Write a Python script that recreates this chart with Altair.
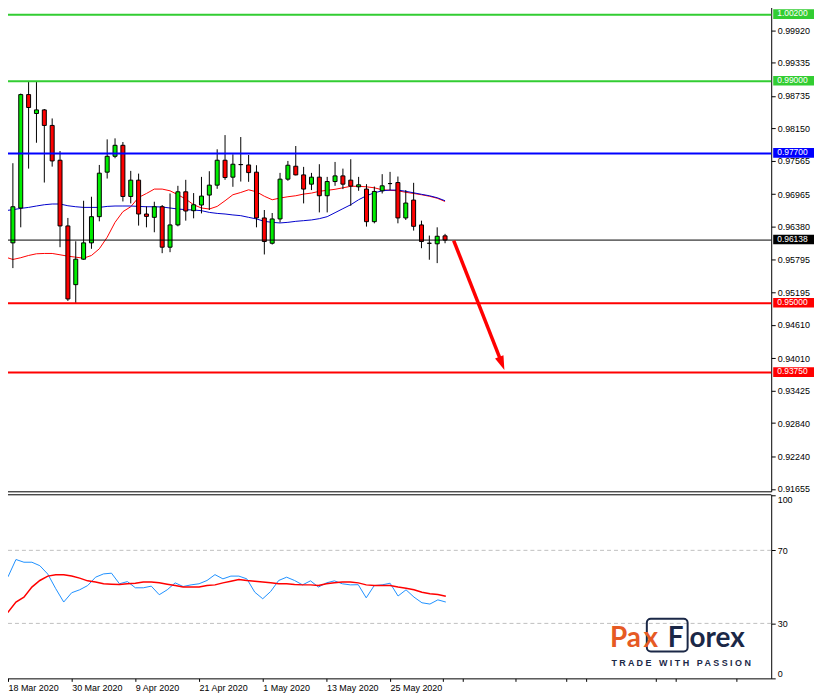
import altair as alt
import pandas as pd

# ---------------- data ----------------
# bar index: 0 = 18 Mar 2020 (daily bars, -1 = 17 Mar 2020)
bars = list(range(-1, 56))

opens = [0.94750, 0.96088, 0.96716, 0.98760, 0.98419, 0.98484, 0.98204, 0.97577, 0.96393, 0.95335,
         0.95794, 0.96088, 0.96560, 0.97362, 0.97648, 0.97846, 0.96924, 0.97218, 0.96608, 0.96548,
         0.96739, 0.96010, 0.96411, 0.97008, 0.96668, 0.96770, 0.96949, 0.97128, 0.97577, 0.97272,
         0.97500, 0.97492, 0.97362, 0.96537, 0.96081, 0.96519, 0.97236, 0.97469, 0.97313, 0.97146,
         0.97272, 0.96937, 0.97193, 0.97295, 0.97218, 0.97098, 0.97057, 0.96470, 0.97026, 0.97157,
         0.97175, 0.96537, 0.96859, 0.96411, 0.96081, 0.96071, 0.96214]
highs = [0.96110, 0.97523, 0.98778, 0.98999, 0.98999, 0.98500, 0.98330, 0.97743, 0.96537, 0.96117,
         0.96847, 0.96919, 0.97492, 0.97953, 0.97971, 0.97905, 0.97385, 0.97336, 0.96745, 0.96829,
         0.96770, 0.96978, 0.97116, 0.97224, 0.96985, 0.97277, 0.97379, 0.97774, 0.98030, 0.97684,
         0.97995, 0.97672, 0.97487, 0.96680, 0.96626, 0.97349, 0.97564, 0.97833, 0.97457, 0.97349,
         0.97505, 0.97277, 0.97546, 0.97426, 0.97595, 0.97277, 0.97146, 0.97103, 0.97326, 0.97367,
         0.97283, 0.97039, 0.97170, 0.96488, 0.96219, 0.96368, 0.96250]
lows = [0.94590, 0.95633, 0.96368, 0.97426, 0.97892, 0.97175, 0.97462, 0.96010, 0.95041, 0.94995,
        0.95784, 0.95981, 0.96476, 0.97247, 0.97613, 0.96834, 0.96799, 0.96399, 0.96368, 0.96279,
        0.95902, 0.95920, 0.96386, 0.96488, 0.96530, 0.96619, 0.96680, 0.97062, 0.97224, 0.97098,
        0.97193, 0.97188, 0.96368, 0.95879, 0.96058, 0.96458, 0.97206, 0.97304, 0.96799, 0.97039,
        0.96637, 0.96637, 0.97116, 0.97057, 0.96757, 0.97026, 0.96381, 0.96440, 0.96978, 0.97039,
        0.96440, 0.96501, 0.96309, 0.95992, 0.95784, 0.95723, 0.96081]
closes = [0.96095, 0.96739, 0.98760, 0.98527, 0.98484, 0.98204, 0.97564, 0.96393, 0.95077, 0.95794,
          0.96088, 0.96560, 0.97344, 0.97648, 0.97846, 0.96924, 0.97218, 0.96608, 0.96565, 0.96739,
          0.96010, 0.96411, 0.97008, 0.96662, 0.96775, 0.96931, 0.97128, 0.97577, 0.97265, 0.97505,
          0.97497, 0.97354, 0.96537, 0.96112, 0.96519, 0.97236, 0.97487, 0.97313, 0.97057, 0.97272,
          0.96937, 0.97193, 0.97295, 0.97146, 0.97111, 0.97134, 0.96470, 0.97014, 0.97116, 0.97156,
          0.96537, 0.96806, 0.96386, 0.96112, 0.96080, 0.96207, 0.96138]

ma_fast = [0.95834, 0.95789, 0.95820, 0.95861, 0.95891, 0.95897, 0.95897, 0.95873, 0.95848, 0.95830,
           0.95812, 0.95861, 0.95981, 0.96189, 0.96458, 0.96650, 0.96739, 0.96906, 0.96978, 0.97057,
           0.97057, 0.97026, 0.96955, 0.96877, 0.96775, 0.96716, 0.96698, 0.96745, 0.96847, 0.96955,
           0.96996, 0.97044, 0.97008, 0.96928, 0.96865, 0.96895, 0.96919, 0.96937, 0.96967, 0.96985,
           0.97017, 0.97035, 0.97053, 0.97080, 0.97107, 0.97107, 0.97098, 0.97080, 0.97044, 0.97035,
           0.97026, 0.96999, 0.96978, 0.96955, 0.96928, 0.96892, 0.96834]
ma_slow = [0.96668, 0.96686, 0.96709, 0.96727, 0.96752, 0.96775, 0.96788, 0.96788, 0.96757, 0.96739,
           0.96727, 0.96727, 0.96727, 0.96745, 0.96752, 0.96752, 0.96752, 0.96745, 0.96739, 0.96739,
           0.96734, 0.96716, 0.96698, 0.96686, 0.96680, 0.96668, 0.96637, 0.96619, 0.96608, 0.96591,
           0.96578, 0.96548, 0.96519, 0.96476, 0.96458, 0.96447, 0.96458, 0.96476, 0.96488, 0.96501,
           0.96524, 0.96560, 0.96632, 0.96704, 0.96775, 0.96865, 0.96937, 0.96990, 0.97026, 0.97039,
           0.97039, 0.97017, 0.96990, 0.96963, 0.96937, 0.96901, 0.96847]

rsi_main = [52.3, 55.5, 65.0, 63.5, 63.5, 61.6, 57.0, 49.0, 41.7, 46.8,
            48.4, 50.7, 55.3, 57.1, 57.5, 51.7, 52.9, 49.5, 49.5, 50.4,
            45.7, 48.4, 52.2, 50.2, 51.1, 51.7, 53.5, 56.7, 54.4, 55.9,
            55.9, 54.4, 47.1, 43.5, 47.5, 53.5, 55.3, 53.5, 51.1, 53.3,
            49.9, 52.2, 53.3, 51.7, 51.1, 51.2, 44.0, 50.7, 51.1, 52.0,
            45.0, 48.4, 44.4, 41.3, 40.6, 42.9, 41.7]
rsi_signal = [33.1, 36.2, 41.7, 44.4, 49.9, 53.5, 55.9, 56.6, 56.6, 55.9,
              54.8, 53.3, 52.7, 51.7, 51.5, 51.3, 51.7, 52.0, 52.7, 52.7,
              52.2, 51.5, 50.7, 49.9, 49.9, 49.9, 50.7, 51.1, 52.2, 53.1,
              54.0, 53.5, 53.1, 52.7, 52.2, 51.7, 51.7, 51.3, 51.1, 51.1,
              50.7, 51.7, 52.2, 52.7, 52.7, 52.2, 51.1, 50.7, 50.7, 50.7,
              49.9, 49.3, 48.4, 47.1, 46.2, 45.8, 44.9]

date_tick_bars = [0, 8, 16, 24, 32, 40, 48]
date_tick_labels = ["18 Mar 2020", "30 Mar 2020", "9 Apr 2020", "21 Apr 2020",
                    "1 May 2020", "13 May 2020", "25 May 2020"]
extra_tick_bars = [54.6, 57.1, 63.75, 70.1, 72.6, 81.4, 83.9, 91.5]

price_ticks = [0.99920, 0.99335, 0.98735, 0.98150, 0.97565, 0.96965, 0.96380, 0.95795,
               0.95195, 0.94610, 0.94010, 0.93425, 0.92840, 0.92240, 0.91655]
level_values = [1.00200, 0.99000, 0.97700, 0.96138, 0.95000, 0.93750]
level_kinds = ["target", "target", "resistance", "current", "support", "support"]

rsi_ticks = [0, 30, 70, 100]
rsi_levels = [30, 70]

arrow_bars = [56.1, 62.1]
arrow_prices = [0.96130, 0.93966]
arrow_tip = [62.55, 0.93799]

# ---------------- styling ----------------
W = 774
H_PRICE = 492
H_RSI = 185
FONT = "Liberation Sans"
GREEN_LVL = "#32CD32"
BLUE_LVL = "#0000FF"
RED = "#FF0000"
CANDLE_UP = "#00EE00"
NAVY = "#1B2847"
ORANGE = "#E65A24"

x_scale = alt.Scale(domain=[-0.875, 95.875], nice=False, zero=False)
price_scale = alt.Scale(domain=[0.916111, 1.004331], nice=False, zero=False)
rsi_scale = alt.Scale(domain=[-0.1, 100.7], nice=False, zero=False)

kind_color = alt.Color("kind:N", legend=None,
                       scale=alt.Scale(domain=["target", "resistance", "current", "support"],
                                       range=[GREEN_LVL, BLUE_LVL, "#000000", RED]))

candles = pd.DataFrame({"bar": bars, "open": opens, "high": highs, "low": lows, "close": closes})
ma = pd.DataFrame({"bar": bars, "fast": ma_fast, "slow": ma_slow})
levels = pd.DataFrame({"price": level_values, "kind": level_kinds,
                       "label": [f"{v:.5f}" for v in level_values]})
arrow_df = pd.DataFrame({"bar": [arrow_bars[0]], "bar2": [arrow_bars[1]],
                         "p": [arrow_prices[0]], "p2": [arrow_prices[1]]})
tip_df = pd.DataFrame({"bar": [arrow_tip[0]], "p": [arrow_tip[1]]})

price_axis = alt.Axis(orient="right", values=price_ticks, format=".5f", tickSize=4,
                      tickColor="black", labelPadding=2, labelFont=FONT, labelFontSize=9,
                      labelColor="black", domainColor="black", grid=False, title=None,
                      labelOverlap=False, labelFlush=False)
top_x_axis = alt.Axis(orient="bottom", labels=False, ticks=False, domain=True,
                      domainColor="black", grid=False, title=None)

label_expr = "".join(f"datum.value == {b} ? '{t}' : " for b, t in zip(date_tick_bars, date_tick_labels)) + "''"
rsi_x_axis = alt.Axis(orient="bottom", values=date_tick_bars + extra_tick_bars, labelExpr=label_expr,
                      tickSize=3, tickColor="black", labelAlign="left", labelBaseline="top",
                      labelPadding=2, labelFont=FONT, labelFontSize=9, labelColor="black",
                      domainColor="black", grid=False, title=None, labelFlush=False,
                      labelOverlap=False)
rsi_y_axis = alt.Axis(orient="right", values=rsi_ticks, tickSize=4, tickColor="black",
                      labelPadding=2, labelFont=FONT, labelFontSize=9, labelColor="black",
                      domainColor="black", grid=False, title=None, labelFlush=3, labelOverlap=False)


def XT(f="bar"):
    return alt.X(f"{f}:Q", scale=x_scale, axis=top_x_axis)


def YP(f):
    return alt.Y(f"{f}:Q", scale=price_scale, axis=price_axis)


def XB(f="bar"):
    return alt.X(f"{f}:Q", scale=x_scale, axis=rsi_x_axis)


def YR(f):
    return alt.Y(f"{f}:Q", scale=rsi_scale, axis=rsi_y_axis)


# ---------------- price panel ----------------
fast_line = alt.Chart(ma).mark_line(color=RED, strokeWidth=1, clip=True).encode(
    x=XT(), y=YP("fast"))
slow_line = alt.Chart(ma).mark_line(color="#0000CC", strokeWidth=1, clip=True).encode(
    x=XT(), y=YP("slow"))
wicks = alt.Chart(candles).mark_rule(color="black", strokeWidth=1, clip=True).encode(
    x=XT(), y=YP("low"), y2="high:Q")
bodies = alt.Chart(candles).mark_bar(size=4, stroke="black", strokeWidth=1, clip=True).encode(
    x=XT(), y=YP("open"), y2="close:Q",
    color=alt.condition("datum.close > datum.open", alt.value(CANDLE_UP), alt.value(RED)))
level_lines = alt.Chart(levels).transform_filter("datum.kind != 'current'").mark_rule(
    strokeWidth=2).encode(y=YP("price"), color=kind_color)
current_line = alt.Chart(levels).transform_filter("datum.kind == 'current'").mark_rule(
    strokeWidth=1).encode(y=YP("price"), color=kind_color)
shaft = alt.Chart(arrow_df).mark_rule(color=RED, strokeWidth=3.5).encode(
    x=XT(), x2="bar2:Q", y=YP("p"), y2="p2:Q")
head = alt.Chart(tip_df).mark_point(shape="M0,0L-0.65,-2L0.65,-2Z", size=196, filled=True,
                                    color=RED, opacity=1, angle=338.4, strokeWidth=0).encode(
    x=XT(), y=YP("p"))
level_boxes = alt.Chart(levels).mark_point(shape="M-1,-0.26L1,-0.26L1,0.21L-1,0.21Z",
                                           size=1681, filled=True, opacity=1, strokeWidth=0).encode(
    x=alt.value(796.5), y=YP("price"), color=kind_color)
level_text = alt.Chart(levels).mark_text(align="left", baseline="middle", font=FONT, fontSize=8.5,
                                         dy=-1.2, color="white").encode(
    x=alt.value(780), y=YP("price"), text="label:N")

price_panel = alt.layer(fast_line, slow_line, wicks, bodies, level_lines, current_line,
                        shaft, head, level_boxes, level_text).properties(width=W, height=H_PRICE)

# ---------------- oscillator panel ----------------
rsi_df = pd.DataFrame({"bar": bars, "main": rsi_main, "signal": rsi_signal})

rsi_level_lines = alt.Chart(pd.DataFrame({"level": rsi_levels})).mark_rule(
    color="#C0C0C0", strokeDash=[4, 3], strokeWidth=1).encode(y=YR("level"))
rsi_main_line = alt.Chart(rsi_df).mark_line(color="#1E90FF", strokeWidth=1, clip=True).encode(
    x=XB(), y=YR("main"))
rsi_signal_line = alt.Chart(rsi_df).mark_line(color=RED, strokeWidth=1.5, clip=True).encode(
    x=XB(), y=YR("signal"))

one = pd.DataFrame({"brand": ["PaxForex"]})
top_border = alt.Chart(one).mark_rule(color="black", strokeWidth=1).encode(
    x=alt.value(0), x2=alt.value(W), y=alt.value(0.5))
logo_box = alt.Chart(one).mark_rect(fillOpacity=0, stroke=NAVY, strokeWidth=2, cornerRadius=4).encode(
    x=alt.value(649), x2=alt.value(690), y=alt.value(125), y2=alt.value(158))


def logo_text(txt, x, color, align):
    return alt.Chart(one).mark_text(text=txt, font="Lato", fontWeight="bold", fontSize=28,
                                    color=color, align=align, baseline="alphabetic").encode(
        x=alt.value(x), y=alt.value(153))


logo_pa = logo_text("Pa", 612, ORANGE, "left")
logo_x = logo_text("x", 653, ORANGE, "center")
logo_f = logo_text("F", 678, NAVY, "center")
logo_orex = logo_text("orex", 692, NAVY, "left")
NB = "\u00A0"
tagline = f"T R A D E{NB}{NB}{NB}W I T H{NB}{NB}{NB}P A S S I O N"
logo_tag = alt.Chart(one).mark_text(text=tagline, font=FONT, fontWeight="bold", fontSize=9,
                                    color=NAVY, align="center", baseline="middle").encode(
    x=alt.value(683.5), y=alt.value(169.5))

rsi_panel = alt.layer(rsi_level_lines, rsi_main_line, rsi_signal_line, top_border,
                      logo_box, logo_pa, logo_x, logo_f, logo_orex, logo_tag).properties(
    width=W, height=H_RSI)

chart = alt.vconcat(price_panel, rsi_panel, spacing=3, bounds="flush").properties(
    padding={"left": -8, "top": -8, "right": 0, "bottom": 0},
    background="white",
).configure_view(stroke=None)

chart.save("out.html", embed_options={"renderer": "svg", "actions": False})
